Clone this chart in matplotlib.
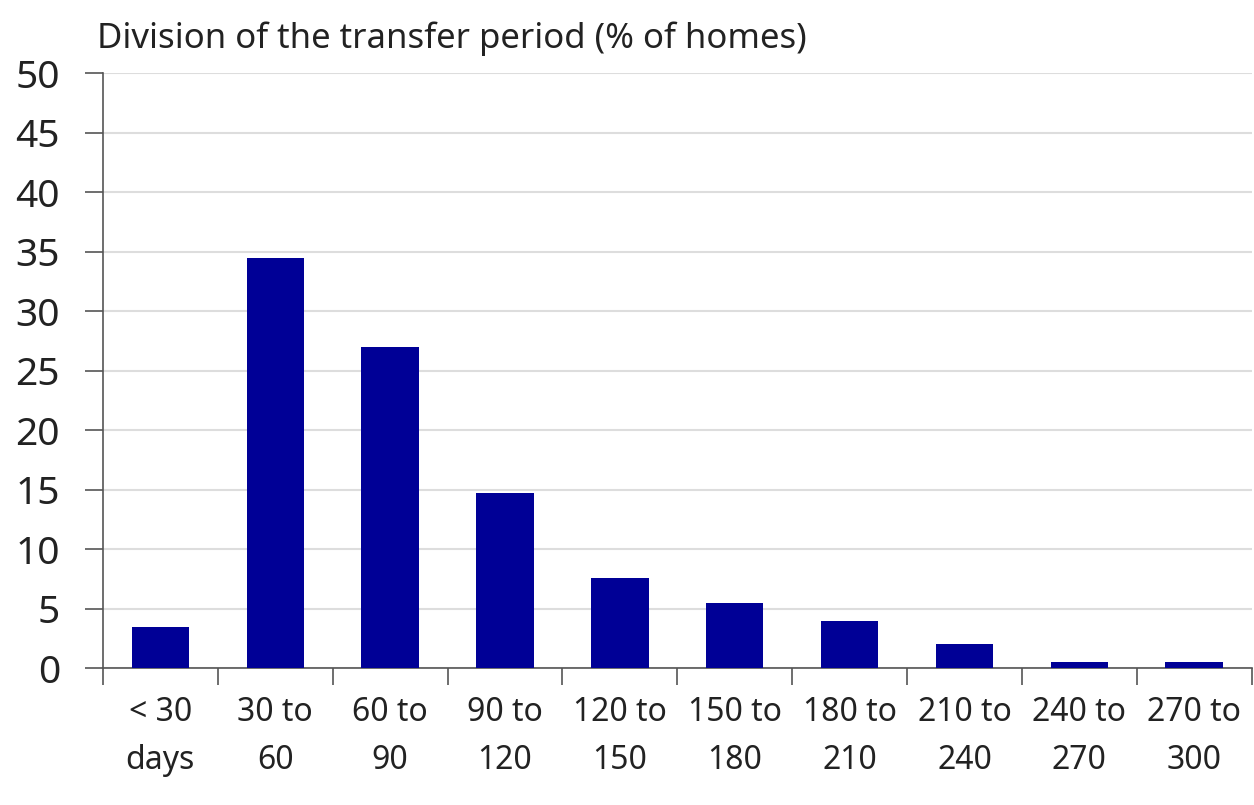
import numpy as np
import matplotlib.pyplot as plt

categories = ["< 30\ndays", "30 to\n60", "60 to\n90", "90 to\n120", "120 to\n150",
              "150 to\n180", "180 to\n210", "210 to\n240", "240 to\n270", "270 to\n300"]
share = [3.5, 34.5, 27.0, 14.7, 7.6, 5.5, 4.0, 2.0, 0.5, 0.5]
yticks = [0, 5, 10, 15, 20, 25, 30, 35, 40, 45, 50]

plt.rcParams['font.family'] = ['Noto Sans', 'DejaVu Sans']

fig = plt.figure(figsize=(12.54, 8.05), dpi=100)
ax = fig.add_axes([0.0821, 0.170, 0.916, 0.739])

x = np.arange(len(categories))
ax.bar(x, share, width=0.5, color='#000096', zorder=3)

ax.set_xlim(-0.5, len(categories) - 0.5)
ax.set_ylim(0, 50)
ax.set_yticks(yticks)
ax.set_yticklabels([str(v) for v in yticks], fontsize=28, color='#222222')
ax.yaxis.grid(True, color='#dddddd', linewidth=1.5, zorder=0)

ax.set_xticks(x)
ax.set_xticklabels(categories, fontsize=23, color='#222222', linespacing=1.6)
ax.set_xticks(np.arange(-0.5, len(categories)), minor=True)
ax.tick_params(axis='x', which='major', length=0, pad=20)
ax.tick_params(axis='x', which='minor', length=12, width=1.2, color='#555555', direction='out')
ax.tick_params(axis='y', length=13, width=1.2, color='#555555', direction='out', pad=18)

for side in ['top', 'right']:
    ax.spines[side].set_visible(False)
ax.spines['left'].set_color('#555555')
ax.spines['bottom'].set_color('#555555')
ax.spines['left'].set_linewidth(1.2)
ax.spines['bottom'].set_linewidth(1.2)

fig.text(0.077, 0.952, "Division of the transfer period (% of homes)", fontsize=25,
         color='#222222', va='center', ha='left')

fig.savefig("out.png", dpi=100)
